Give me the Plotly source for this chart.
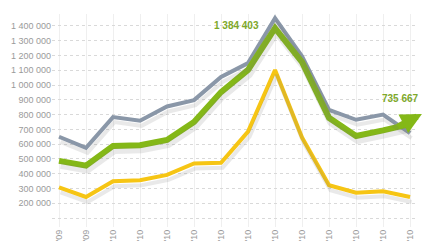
import plotly.graph_objects as go

months = ["Nov '09", "Dec '09", "Jan '10", "Feb '10", "Mar '10", "Apr '10", "May '10",
          "Jun '10", "Jul '10", "Aug '10", "Sep '10", "Oct '10", "Nov '10", "Dec '10"]
gray_vals = [650000, 575000, 783000, 758000, 855000, 898000, 1055000,
             1148000, 1452000, 1195000, 832000, 765000, 800000, 675000]
green_vals = [487000, 455000, 588000, 593000, 628000, 750000, 952000,
              1102000, 1384403, 1155000, 778000, 655000, 693000, 735667]
yellow_vals = [308000, 243000, 350000, 356000, 392000, 470000, 474000,
               685000, 1101000, 645000, 322000, 272000, 282000, 243000]
y_ticks = [100000, 200000, 300000, 400000, 500000, 600000, 700000,
           800000, 900000, 1000000, 1100000, 1200000, 1300000, 1400000]
y_tick_text = ["", "200 000", "300 000", "400 000", "500 000", "600 000", "700 000",
               "800 000", "900 000", "1 000 000", "1 100 000", "1 200 000", "1 300 000", "1 400 000"]

GRAY = "#8a97a8"
GREEN = "#84b817"
YELLOW = "#f6c514"
SHADOW = "rgba(120,120,120,0.16)"

x = list(range(len(months)))
XR = [-0.26, 13.22]
YR = [40000, 1480000]
# shadow offsets (in data units on overlay axes)
dx = 1.5 / 27.0
dy = 5 / 14.75 * 100000

fig = go.Figure()
for vals, w in [(gray_vals, 4), (green_vals, 6), (yellow_vals, 4)]:
    fig.add_trace(go.Scatter(x=x, y=vals, mode="lines", xaxis="x2", yaxis="y2",
                             line=dict(color=SHADOW, width=w), hoverinfo="skip"))
fig.add_trace(go.Scatter(x=x, y=yellow_vals, mode="lines", line=dict(color=YELLOW, width=4)))
fig.add_trace(go.Scatter(x=x, y=gray_vals, mode="lines", line=dict(color=GRAY, width=4)))
fig.add_trace(go.Scatter(x=x, y=green_vals, mode="lines", line=dict(color=GREEN, width=6)))

# arrow at end of green line
last, prev = green_vals[-1], green_vals[-2]
tip_x = x[-1] + 0.44
tip_y = last + (last - prev) * 1.6
tail_x = x[-1] - 0.5
tail_y = (last + prev) / 2
fig.add_annotation(x=tip_x, y=tip_y, ax=tail_x, ay=tail_y,
                   xref="x", yref="y", axref="x", ayref="y", showarrow=True,
                   arrowhead=2, arrowsize=0.7, arrowwidth=6, arrowcolor=GREEN, text="")

peak_i = green_vals.index(max(green_vals))
fig.add_annotation(x=peak_i, y=green_vals[peak_i], text="1 384 403", showarrow=False,
                   xanchor="right", yanchor="middle", xshift=-14, yshift=3,
                   font=dict(family="Liberation Sans, Arial", size=10, color="#7ea82a", weight="bold"))
fig.add_annotation(x=x[-1], y=green_vals[-1], text="735 667", showarrow=False,
                   xanchor="center", yanchor="bottom", xshift=-10, yshift=18,
                   font=dict(family="Liberation Sans, Arial", size=10, color="#7ea82a", weight="bold"))

fig.update_layout(
    width=432, height=243,
    margin=dict(l=52, r=16, t=14, b=16),
    paper_bgcolor="white", plot_bgcolor="white",
    showlegend=False,
    font=dict(family="Liberation Sans, Arial", size=9, color="#9a9a9a"),
    xaxis=dict(range=XR, tickmode="array", tickvals=x, ticktext=months, tickangle=-90,
               showgrid=True, gridcolor="#efefef", gridwidth=1, zeroline=False,
               showline=False, ticks="", automargin=False,
               tickfont=dict(size=9, color="#9a9a9a")),
    yaxis=dict(range=YR, tickmode="array", tickvals=y_ticks, ticktext=y_tick_text,
               showgrid=True, gridcolor="#d9d9d9", griddash="dot", gridwidth=1,
               zeroline=False, showline=False, ticks="", automargin=False,
               tickfont=dict(size=9, color="#9a9a9a")),
    xaxis2=dict(range=[XR[0] - dx, XR[1] - dx], overlaying="x", visible=False),
    yaxis2=dict(range=[YR[0] + dy, YR[1] + dy], overlaying="y", visible=False),
)

fig.write_html("out.html")
